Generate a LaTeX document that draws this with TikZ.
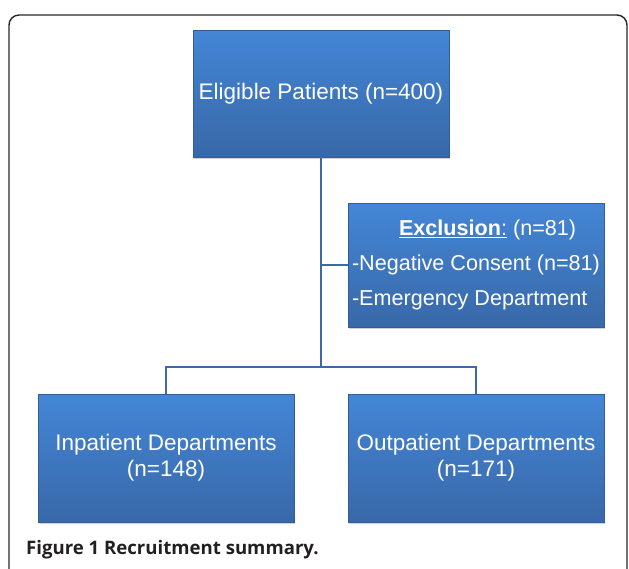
\documentclass[tikz,border=0pt]{standalone}
\usepackage{fontspec}
\setmainfont{Liberation Sans}
\newfontfamily\capfont{Open Sans}
\usetikzlibrary{shadows}
\definecolor{boxtop}{RGB}{68,134,214}
\definecolor{boxbot}{RGB}{56,104,168}
\definecolor{linkcol}{RGB}{62,106,163}
\definecolor{capcol}{RGB}{35,31,32}
\tikzset{
  flowbox/.style={rectangle, top color=boxtop, bottom color=boxbot, draw=boxbot!90!black, line width=0.3pt,
    drop shadow={opacity=0.35, shadow xshift=1pt, shadow yshift=-1.5pt},
    text=white, align=center, inner sep=0pt, minimum width=256pt, minimum height=127pt,
    font=\fontsize{22.5}{26}\selectfont},
  link/.style={draw=linkcol, line width=2pt}
}
\begin{document}
\begin{tikzpicture}[x=1pt, y=-1pt]
\useasboundingbox (0,0) rectangle (629,568);
% outer frame, open at the bottom
\draw[line width=1.4pt, color=black!85, rounded corners=10pt] (9,570) -- (9,15) -- (627,15) -- (627,570);
% boxes
\node[flowbox] (elig) at (321,93.5) {Eligible Patients (n=400)};
\node[flowbox, minimum height=124pt, align=left, font=\fontsize{21.6}{35}\selectfont] (excl) at (476,265)
  {\hspace*{47pt}\underline{\textbf{Exclusion}:} (n=81)\\-Negative Consent (n=81)\\-Emergency Department};
\node[flowbox, minimum height=128pt] (inpat) at (166,458) {Inpatient Departments\\(n=148)};
\node[flowbox, minimum height=128pt] (outpat) at (476,458) {Outpatient Departments\\(n=171)};
% connectors
\coordinate (split) at (321,367);
\draw[link] (elig.south) -- (split);
\draw[link] (elig.south |- excl.west) -- (excl.west);
\draw[link] (inpat.north) |- (split) -| (outpat.north);
% caption
\node[anchor=west, text=capcol, inner sep=0pt, font=\capfont\bfseries\fontsize{18.6}{22}\selectfont] (cap) at (26,550)
  {Figure 1 Recruitment summary.};
\end{tikzpicture}
\end{document}
